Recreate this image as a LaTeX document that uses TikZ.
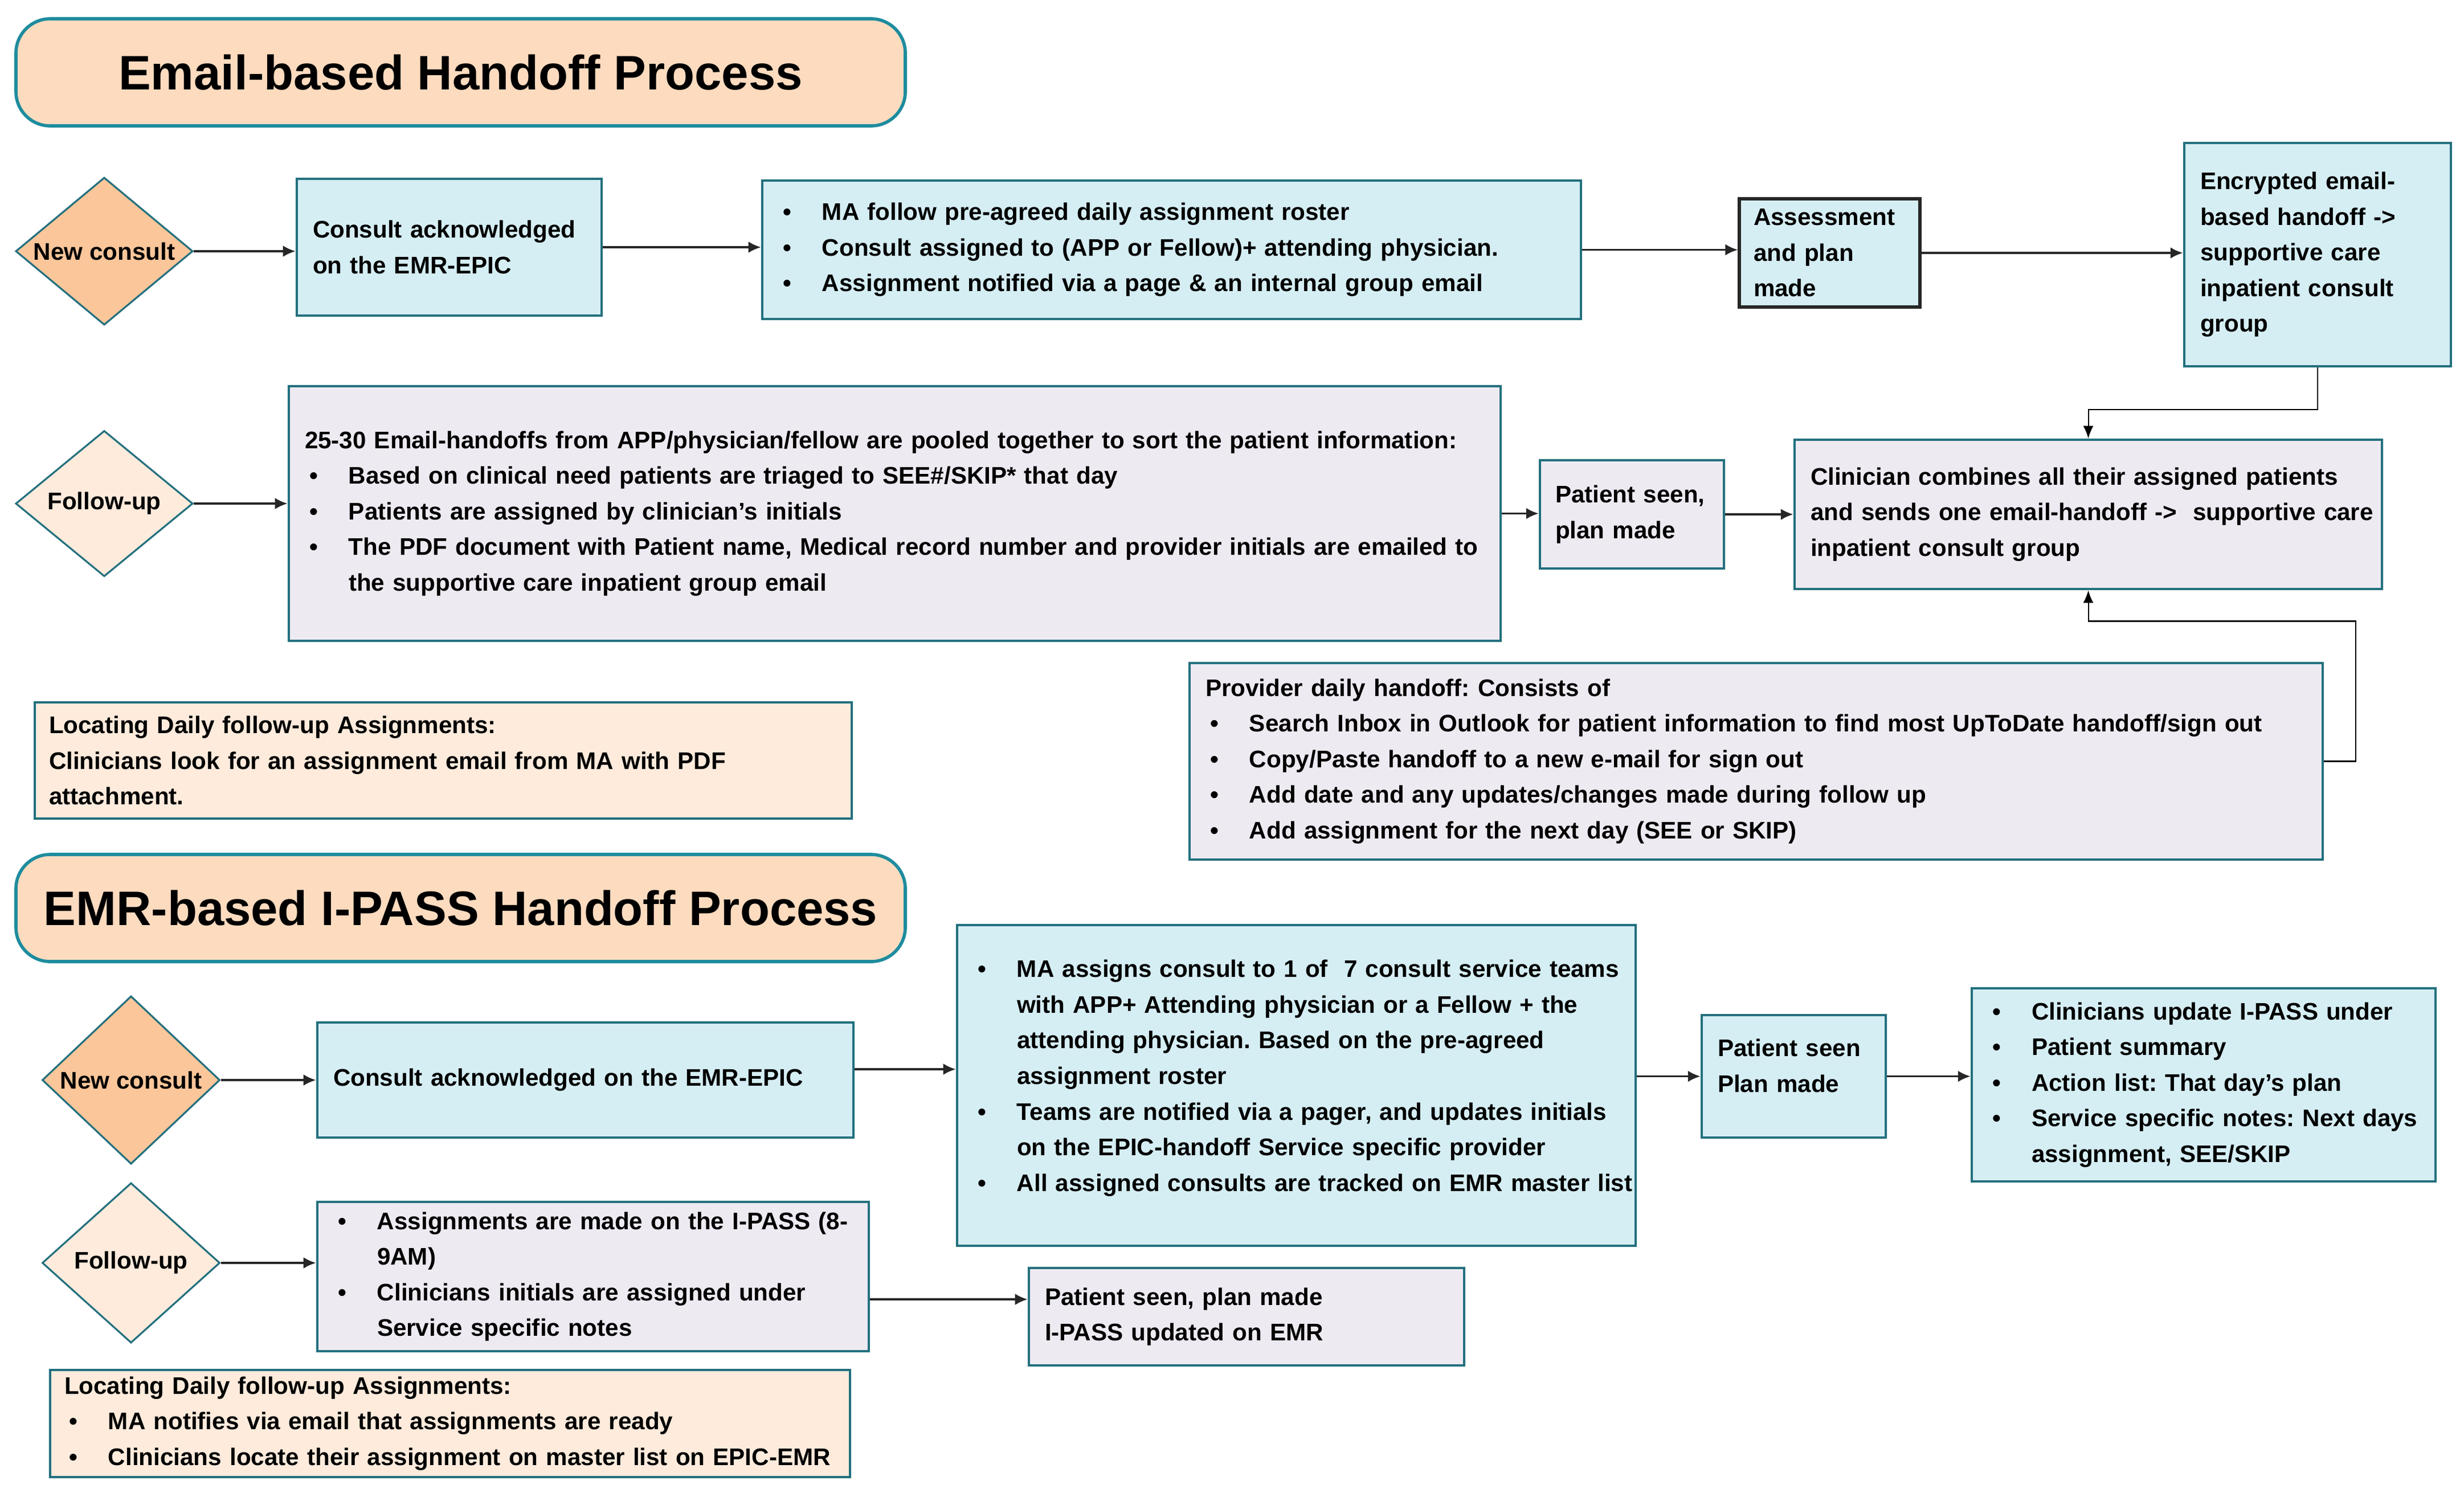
\documentclass[tikz,border=0pt]{standalone}
\usepackage{fontspec}
\setmainfont{Liberation Sans}
\usepackage{tikz}
\usetikzlibrary{shapes.geometric}
\usetikzlibrary{arrows.meta}
\usepackage{xcolor}

\definecolor{tealLine}{HTML}{23707E}
\definecolor{titleLine}{HTML}{1E8C9E}
\definecolor{iceBlue}{HTML}{D5EEF4}
\definecolor{lilac}{HTML}{EEEAF2}
\definecolor{peach}{HTML}{FDDBBF}
\definecolor{peachLight}{HTML}{FEEBDC}
\definecolor{apricot}{HTML}{FBC69A}

\newcommand{\bodyFont}{\fontsize{12.0}{17.8}\selectfont\bfseries\frenchspacing}
\newcommand{\titleFont}{\fontsize{24.2}{29}\selectfont\bfseries}
\newcommand{\txtLine}[1]{\mbox{#1}\par}
\newcommand{\bulLine}[1]{\makebox[0.77cm][l]{\hspace{0.08cm}\textbullet}\mbox{#1}\par}
\newcommand{\contLine}[1]{\leavevmode\hspace*{0.77cm}\mbox{#1}\par}

\tikzset{
  card/.style={draw=tealLine, line width=1.3pt, inner xsep=0.28cm, inner ysep=0pt, align=left, font=\bodyFont},
  blueBox/.style={card, fill=iceBlue},
  lilacBox/.style={card, fill=lilac},
  noteBox/.style={card, fill=peachLight, inner xsep=0.25cm},
  titleBox/.style={draw=titleLine, fill=peach, line width=1.6pt, rounded corners=0.6cm, minimum width=15.61cm, minimum height=1.88cm, font=\titleFont},
  decision/.style={diamond, draw=tealLine, line width=0.9pt, inner sep=0pt, font=\bodyFont},
  flowArrow/.style={draw=black!85, line width=1pt, -{Latex[length=0.22cm,width=0.2cm]}},
  loopArrow/.style={draw=black, line width=0.6pt, -{Latex[length=0.22cm,width=0.18cm]}}
}

\begin{document}
\begin{tikzpicture}
	\fill[white] (0,0) rectangle (43.25,-26.27);
	\useasboundingbox (0,0) rectangle (43.25,-26.27);
	
	\node[titleBox] (title1) at (8.085,-1.27) {Email-based Handoff Process};
	\node[titleBox] (title2) at (8.085,-15.94) {EMR-based I-PASS Handoff Process};
	
	\node[decision, fill=apricot, minimum width=3.11cm, minimum height=2.59cm, aspect=1.2] (nc1) at (1.83,-4.41) {New consult};
	\node[decision, fill=peachLight, minimum width=3.11cm, minimum height=2.56cm, aspect=1.2] (fu1) at (1.83,-8.84) {Follow-up};
	\node[decision, fill=apricot, minimum width=3.12cm, minimum height=2.95cm, aspect=1.06] (nc2) at (2.30,-18.96) {New consult};
	\node[decision, fill=peachLight, minimum width=3.12cm, minimum height=2.81cm, aspect=1.1] (fu2) at (2.30,-22.17) {Follow-up};
	
	\node[blueBox, text width=4.79cm, minimum height=2.40cm] (ack1) at (7.885,-4.34)
		{\txtLine{Consult acknowledged}\txtLine{on the EMR-EPIC}};
	\node[blueBox, text width=13.81cm, minimum height=2.43cm] (maroster) at (20.565,-4.385)
		{\bulLine{MA follow pre-agreed daily assignment roster}
		 \bulLine{Consult assigned to (APP or Fellow)+ attending physician.}
		 \bulLine{Assignment notified via a page \& an internal group email}};
	\node[blueBox, draw=black!85, line width=1.5pt, inner xsep=0.25cm, text width=2.67cm, minimum height=1.90cm] (assess) at (32.115,-4.44)
		{\txtLine{Assessment}\txtLine{and plan}\txtLine{made}};
	\node[blueBox, text width=4.12cm, minimum height=3.92cm] (encr) at (40.68,-4.47)
		{\txtLine{Encrypted email-}\txtLine{based handoff ->}\txtLine{supportive care}\txtLine{inpatient consult}\txtLine{group}};
	
	\node[lilacBox, text width=20.71cm, minimum height=4.47cm] (pool) at (15.705,-9.015)
		{\txtLine{25-30 Email-handoffs from APP/physician/fellow are pooled together to sort the patient information:}
		 \bulLine{Based on clinical need patients are triaged to SEE\#/SKIP* that day}
		 \bulLine{Patients are assigned by clinician’s initials}
		 \bulLine{The PDF document with Patient name, Medical record number and provider initials are emailed to}
		 \contLine{the supportive care inpatient group email}};
	\node[lilacBox, inner xsep=0.27cm, text width=2.69cm, minimum height=1.90cm] (seen1) at (28.645,-9.03)
		{\txtLine{Patient seen,}\txtLine{plan made}};
	\node[lilacBox, text width=9.75cm, minimum height=2.62cm] (combine) at (36.655,-9.03)
		{\txtLine{Clinician combines all their assigned patients}
		 \txtLine{and sends one email-handoff ->\ \ supportive care}
		 \txtLine{inpatient consult group}};
	
	\node[noteBox, text width=13.84cm, minimum height=2.04cm] (locate1) at (7.78,-13.35)
		{\txtLine{Locating Daily follow-up Assignments:}
		 \txtLine{Clinicians look for an assignment email from MA with PDF}
		 \txtLine{attachment.}};
	\node[lilacBox, text width=19.33cm, minimum height=3.45cm] (provider) at (30.825,-13.365)
		{\txtLine{Provider daily handoff: Consists of}
		 \bulLine{Search Inbox in Outlook for patient information to find most UpToDate handoff/sign out}
		 \bulLine{Copy/Paste handoff to a new e-mail for sign out}
		 \bulLine{Add date and any updates/changes made during follow up}
		 \bulLine{Add assignment for the next day (SEE or SKIP)}};
	
	\node[blueBox, text width=8.85cm, minimum height=2.02cm] (ack2) at (10.275,-18.96)
		{\txtLine{Consult acknowledged on the EMR-EPIC}};
	\node[blueBox, text width=11.35cm, text depth=4.10cm, minimum height=5.63cm] (massign) at (22.755,-19.055)
		{\bulLine{MA assigns consult to 1 of\ \ 7 consult service teams}
		 \contLine{with APP+ Attending physician or a Fellow + the}
		 \contLine{attending physician. Based on the pre-agreed}
		 \contLine{assignment roster}
		 \bulLine{Teams are notified via a pager, and updates initials}
		 \contLine{on the EPIC-handoff Service specific provider}
		 \bulLine{All assigned consults are tracked on EMR master list}};
	\node[blueBox, text width=2.67cm, text depth=1.0cm, minimum height=2.15cm] (seen2) at (31.485,-18.895)
		{\txtLine{Patient seen}\txtLine{Plan made}};
	\node[blueBox, text width=7.58cm, minimum height=3.39cm] (update) at (38.68,-19.045)
		{\bulLine{Clinicians update I-PASS under}
		 \bulLine{Patient summary}
		 \bulLine{Action list: That day’s plan}
		 \bulLine{Service specific notes: Next days}
		 \contLine{assignment, SEE/SKIP}};
	\node[lilacBox, text width=9.12cm, minimum height=2.62cm] (assignments) at (10.41,-22.41)
		{\bulLine{Assignments are made on the I-PASS (8-}
		 \contLine{9AM)}
		 \bulLine{Clinicians initials are assigned under}
		 \contLine{Service specific notes}};
	\node[lilacBox, text width=7.08cm, minimum height=1.71cm] (seenipass) at (21.88,-23.115)
		{\txtLine{Patient seen, plan made}\txtLine{I-PASS updated on EMR}};
	\node[noteBox, text width=13.54cm, minimum height=1.88cm] (locate2) at (7.90,-24.99)
		{\txtLine{Locating Daily follow-up Assignments:}
		 \bulLine{MA notifies via email that assignments are ready}
		 \bulLine{Clinicians locate their assignment on master list on EPIC-EMR}};
	
	\foreach \a/\b in {nc1/ack1, ack1/maroster, maroster/assess, assess/encr, fu1/pool, pool/seen1, seen1/combine, nc2/ack2, seen2/update, fu2/assignments} {
		\draw[flowArrow] (\a.east) -- (\a.east -| \b.west);
	}
	\draw[flowArrow] ([yshift=1.9mm]ack2.east) -- ([yshift=1.9mm]ack2.east -| massign.west);
	\draw[flowArrow] (massign.east |- seen2.west) -- (seen2.west);
	\draw[flowArrow] ([yshift=-4mm]assignments.east) -- ([yshift=-4mm]assignments.east -| seenipass.west);
	\draw[loopArrow] (encr.south) -- ++(0,-0.74) -| (combine.north);
	\draw[loopArrow] (provider.east) -- ++(0.56,0) -- ++(0,2.46) -| (combine.south);
\end{tikzpicture}
\end{document}
